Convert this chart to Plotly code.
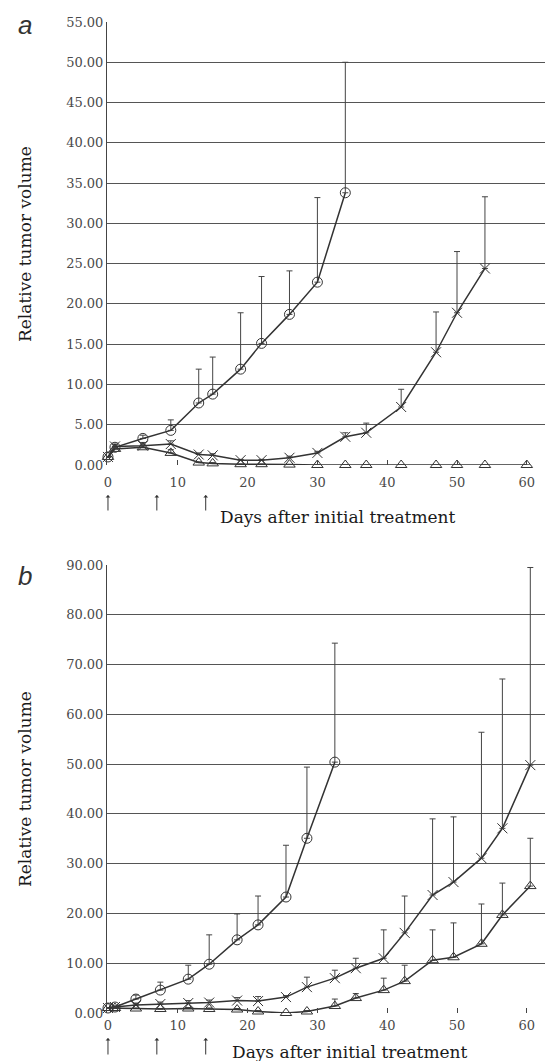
import plotly.graph_objects as go

# ---------------- Panel a data ----------------
a_circle_days = [0, 1, 5, 9, 13, 15, 19, 22, 26, 30, 34]
a_circle_vals = [1.0, 2.2, 3.3, 4.3, 7.7, 8.8, 11.9, 15.1, 18.7, 22.7, 33.8]
a_circle_err = [0.0, 0.3, 0.4, 1.3, 4.2, 4.6, 7.0, 8.3, 5.4, 10.5, 16.2]

a_cross_days = [0, 1, 5, 9, 13, 15, 19, 22, 26, 30, 34, 37, 42, 47, 50, 54]
a_cross_vals = [1.0, 2.3, 2.4, 2.6, 1.3, 1.2, 0.6, 0.6, 0.9, 1.5, 3.5, 4.0, 7.2, 14.0, 18.9, 24.4]
a_cross_err = [0.0, 0.3, 0.4, 0.4, 0.2, 0.2, 0.1, 0.1, 0.2, 0.2, 0.5, 1.2, 2.2, 5.0, 7.6, 8.9]

a_tri_days = [0, 1, 5, 9, 13, 15, 19, 22, 26, 30, 34, 37, 42, 47, 50, 54, 60]
a_tri_vals = [1.0, 2.0, 2.2, 1.5, 0.3, 0.2, 0.1, 0.1, 0.05, 0, 0, 0, 0, 0, 0, 0, 0]
a_tri_err = [0.0, 0.2, 0.3, 0.4, 0.1, 0.1, 0, 0, 0, 0, 0, 0, 0, 0, 0, 0, 0]

# ---------------- Panel b data ----------------
b_circle_days = [0, 1, 4, 7.5, 11.5, 14.5, 18.5, 21.5, 25.5, 28.5, 32.5]
b_circle_vals = [1.0, 1.2, 2.8, 4.6, 6.8, 9.8, 14.7, 17.7, 23.3, 35.1, 50.4]
b_circle_err = [0.0, 0.2, 0.8, 1.6, 2.8, 5.9, 5.2, 5.8, 10.4, 14.3, 23.9]

b_days = [0, 1, 4, 7.5, 11.5, 14.5, 18.5, 21.5, 25.5, 28.5, 32.5, 35.5, 39.5,
          42.5, 46.5, 49.5, 53.5, 56.5, 60.5]
b_cross_vals = [1.0, 1.2, 1.6, 1.8, 2.0, 2.1, 2.5, 2.4, 3.2, 5.2, 7.0, 9.0, 11.0,
                16.1, 23.7, 26.3, 31.1, 37.1, 49.8]
b_cross_err = [0.0, 0.2, 0.4, 0.4, 0.5, 0.5, 0.6, 0.9, 0.3, 2.0, 1.6, 2.0, 5.7,
               7.4, 15.3, 13.1, 25.3, 30.0, 39.7]
b_tri_vals = [1.0, 1.0, 0.9, 0.8, 0.9, 0.8, 0.7, 0.3, 0.0, 0.3, 1.4, 3.0, 4.6,
              6.4, 10.6, 11.2, 13.9, 19.7, 25.5]
b_tri_err = [0.0, 0.1, 0.1, 0.1, 0.2, 0.2, 0.2, 0.2, 0.0, 0.2, 1.4, 0.9, 2.4,
             3.2, 6.1, 6.9, 8.0, 6.4, 9.6]

a_yticks = [0, 5, 10, 15, 20, 25, 30, 35, 40, 45, 50, 55]
b_yticks = [0, 10, 20, 30, 40, 50, 60, 70, 80, 90]
xticks = [0, 10, 20, 30, 40, 50, 60]
treatment_days = [0, 7, 14]

# page is 553x1061; the html body adds an 8px margin, so the figure is 8px smaller
OFF = 8
W, H = 553 - OFF, 1061 - OFF
LINE = "#333333"
SERIF = "DejaVu Serif"


def px_x(px):
    return (px - OFF) / W


def px_y(px):
    return (H - (px - OFF)) / H


def add_series(fig, x, y, err, symbol, xa, ya):
    fig.add_trace(go.Scatter(
        x=x, y=y, mode="lines+markers", xaxis=xa, yaxis=ya,
        line=dict(color=LINE, width=1.5),
        marker=dict(symbol=symbol, size=10, color=LINE, line=dict(color=LINE, width=1)),
        error_y=dict(type="data", symmetric=False, array=err, arrayminus=[0] * len(err),
                     width=3, thickness=1, color="#444444"),
        cliponaxis=False, showlegend=False))


fig = go.Figure()
add_series(fig, a_circle_days, a_circle_vals, a_circle_err, "circle-open", "x", "y")
add_series(fig, a_cross_days, a_cross_vals, a_cross_err, "x-thin-open", "x", "y")
add_series(fig, a_tri_days, a_tri_vals, a_tri_err, "triangle-up-open", "x", "y")
add_series(fig, b_circle_days, b_circle_vals, b_circle_err, "circle-open", "x2", "y2")
add_series(fig, b_days, b_cross_vals, b_cross_err, "x-thin-open", "x2", "y2")
add_series(fig, b_days, b_tri_vals, b_tri_err, "triangle-up-open", "x2", "y2")

xr = [-0.14, 63.75]
xdom = [px_x(107), 1.0]
common_x = dict(range=xr, domain=xdom, tickvals=xticks, ticktext=[str(t) for t in xticks],
                ticks="inside", ticklen=5, tickcolor="#444", showgrid=False, zeroline=False,
                showline=False, automargin=False,
                tickfont=dict(family=SERIF, size=13, color="#4a4a4a"))
common_y = dict(showgrid=True, gridcolor="#555555", gridwidth=1.1, zeroline=False,
                showline=True, linecolor="#444444", linewidth=1, ticks="", automargin=False,
                tickfont=dict(family=SERIF, size=13, color="#4a4a4a"))

fig.update_layout(
    width=W, height=H, margin=dict(l=0, r=0, t=0, b=0, autoexpand=False),
    paper_bgcolor="white", plot_bgcolor="white",
    xaxis=dict(anchor="y", ticklabelstandoff=8, **common_x),
    yaxis=dict(domain=[px_y(465), px_y(22)], range=[0, 55], tickvals=a_yticks,
               ticktext=[f"{v:.2f}" for v in a_yticks], anchor="x", **common_y),
    xaxis2=dict(anchor="y2", ticklabelstandoff=3, **common_x),
    yaxis2=dict(domain=[px_y(1013), px_y(565)], range=[0, 90], tickvals=b_yticks,
                ticktext=[f"{v:.2f}" for v in b_yticks], anchor="x2", **common_y),
)

C = dict(xanchor="center", yanchor="middle", xref="paper", yref="paper", showarrow=False)
ann = []
# panel letters
ann.append(dict(text="<i>a</i>", x=px_x(25), y=px_y(25),
                font=dict(family="Liberation Sans", size=26, color="#333"), **C))
ann.append(dict(text="<i>b</i>", x=px_x(25), y=px_y(576),
                font=dict(family="Liberation Sans", size=26, color="#333"), **C))
# y titles
for cy in (244, 789):
    ann.append(dict(text="Relative tumor volume", x=px_x(25), y=px_y(cy), textangle=-90,
                    font=dict(family=SERIF, size=17, color="#1a1a1a"), **C))
# x titles
ann.append(dict(text="Days after initial treatment", x=px_x(338), y=px_y(517),
                font=dict(family=SERIF, size=17, color="#1a1a1a"), **C))
ann.append(dict(text="Days after initial treatment", x=px_x(350), y=px_y(1052),
                font=dict(family=SERIF, size=17, color="#1a1a1a"), **C))
# treatment arrows
for d in treatment_days:
    ann.append(dict(x=d, y=px_y(495), xref="x", yref="paper", ax=0, ay=17, showarrow=True,
                    arrowhead=1, arrowsize=0.8, arrowwidth=1, arrowcolor="#333", text=""))
    ann.append(dict(x=d, y=px_y(1038), xref="x2", yref="paper", ax=0, ay=18, showarrow=True,
                    arrowhead=1, arrowsize=0.8, arrowwidth=1, arrowcolor="#333", text=""))
fig.update_layout(annotations=ann)

fig.write_html("out.html")
